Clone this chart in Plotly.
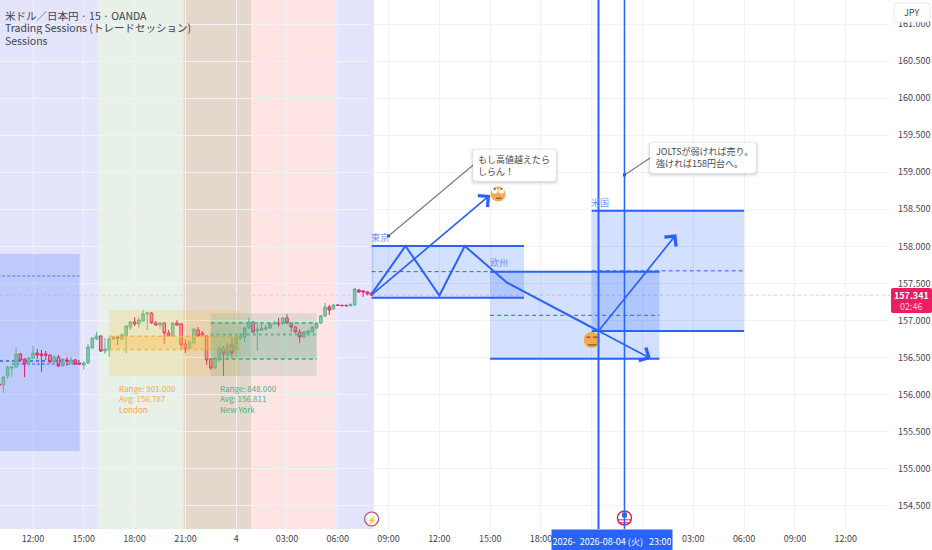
import pandas as pd
import plotly.graph_objects as go

W, H = 932, 550
PLOT_W, PLOT_H = 890, 529
TEXT_FONT = "Liberation Sans Narrow, Noto Sans CJK JP, sans-serif"
BLUE = "#2962ff"
LABEL_BLUE = "#6b93ff"
LAST_PRICE = 157.341

# 15 minute USD/JPY bars
bar_times = pd.date_range("2026-08-03 10:00", periods=89, freq="15min")
bar_opens = [
    156.143, 156.129, 156.251, 156.359, 156.372, 156.548, 156.480, 156.426, 156.494, 156.561,
    156.548, 156.548, 156.534, 156.440, 156.507, 156.386, 156.467, 156.426, 156.467, 156.426,
    156.399, 156.426, 156.629, 156.750, 156.791, 156.588, 156.602, 156.750, 156.777, 156.750,
    156.791, 156.912, 156.980, 156.953, 156.993, 157.088, 157.101, 156.966, 156.939, 156.966,
    156.831, 156.791, 156.966, 156.953, 156.683, 156.615, 156.696, 156.872, 156.831, 156.791,
    156.480, 156.359, 156.467, 156.629, 156.534, 156.669, 156.602, 156.764, 156.777, 156.899,
    156.980, 156.858, 156.872, 156.885, 156.899, 156.953, 156.966, 156.966, 157.034, 156.966,
    156.912, 156.845, 156.777, 156.831, 156.845, 156.899, 156.966, 157.061, 157.182, 157.155,
    157.209, 157.205, 157.205, 157.198, 157.209, 157.411, 157.398, 157.385, 157.371,
]
bar_highs = [
    156.156, 156.251, 156.386, 156.386, 156.642, 156.561, 156.494, 156.507, 156.656, 156.615,
    156.602, 156.588, 156.540, 156.534, 156.534, 156.490, 156.507, 156.507, 156.480, 156.430,
    156.453, 156.683, 156.777, 156.845, 156.800, 156.764, 156.777, 156.790, 156.791, 156.831,
    156.939, 156.993, 157.047, 157.034, 157.142, 157.115, 157.115, 156.993, 156.980, 156.975,
    156.872, 156.980, 157.007, 156.966, 156.750, 156.737, 156.899, 156.912, 156.858, 156.800,
    156.494, 156.507, 156.656, 156.656, 156.696, 156.764, 156.777, 156.831, 156.912, 157.034,
    156.990, 156.980, 156.966, 156.939, 156.966, 156.993, 157.034, 157.047, 157.088, 156.980,
    156.926, 156.885, 156.858, 156.872, 156.925, 156.975, 157.074, 157.236, 157.209, 157.223,
    157.218, 157.212, 157.210, 157.230, 157.438, 157.425, 157.411, 157.395, 157.385,
]
bar_lows = [
    156.116, 156.021, 156.210, 156.237, 156.359, 156.453, 156.237, 156.413, 156.480, 156.480,
    156.305, 156.467, 156.435, 156.430, 156.372, 156.380, 156.386, 156.413, 156.399, 156.405,
    156.332, 156.413, 156.615, 156.737, 156.575, 156.548, 156.507, 156.737, 156.669, 156.737,
    156.561, 156.872, 156.926, 156.899, 156.980, 156.872, 156.953, 156.926, 156.885, 156.683,
    156.777, 156.777, 156.926, 156.602, 156.561, 156.602, 156.683, 156.777, 156.777, 156.399,
    156.332, 156.345, 156.440, 156.251, 156.467, 156.494, 156.507, 156.737, 156.710, 156.885,
    156.831, 156.588, 156.858, 156.858, 156.885, 156.950, 156.912, 156.939, 156.953, 156.845,
    156.831, 156.696, 156.764, 156.818, 156.835, 156.885, 156.953, 157.047, 157.074, 157.142,
    157.200, 157.196, 157.196, 157.190, 157.200, 157.371, 157.317, 157.340, 157.330,
]
bar_closes = [
    156.129, 156.237, 156.372, 156.372, 156.548, 156.467, 156.413, 156.494, 156.561, 156.534,
    156.525, 156.534, 156.440, 156.507, 156.386, 156.480, 156.453, 156.467, 156.413, 156.413,
    156.426, 156.642, 156.764, 156.791, 156.588, 156.615, 156.750, 156.777, 156.764, 156.804,
    156.926, 156.980, 156.953, 157.007, 157.088, 157.101, 156.966, 156.939, 156.966, 156.831,
    156.791, 156.966, 156.939, 156.669, 156.615, 156.710, 156.885, 156.791, 156.791, 156.467,
    156.359, 156.494, 156.629, 156.548, 156.669, 156.561, 156.777, 156.791, 156.899, 156.980,
    156.845, 156.885, 156.899, 156.899, 156.953, 156.966, 156.953, 157.034, 156.966, 156.912,
    156.845, 156.777, 156.845, 156.858, 156.912, 156.966, 157.061, 157.182, 157.142, 157.209,
    157.205, 157.200, 157.198, 157.215, 157.425, 157.385, 157.385, 157.358, 157.341,
]

x_range = ["2026-08-03 10:03", "2026-08-05 14:37"]
y_range = [154.186, 161.325]
tick_times = pd.date_range("2026-08-03 12:00", periods=17, freq="3h")
# the two ticks under the crosshair label stay blank, the picture does not show them
tick_labels = ["12:00", "15:00", "18:00", "21:00", "4", "03:00", "06:00", "09:00", "12:00",
               "15:00", "18:00", "", "", "03:00", "06:00", "09:00", "12:00"]
price_ticks = [154.5 + 0.5 * i for i in range(15)]

# session backgrounds
band_edges = ["2026-08-03 09:00", "2026-08-03 15:52:30", "2026-08-03 20:52:30",
              "2026-08-04 00:52:30", "2026-08-04 05:52:30", "2026-08-04 08:07:30"]
band_colors = ["#e4e4fd", "#e7f1e7", "#e4d8cd", "#ffe4e4", "#e4e4fd"]

# path drawn on the chart, then the three arrows
path_times = ["2026-08-04 08:00", "2026-08-04 10:00", "2026-08-04 12:00", "2026-08-04 13:30",
              "2026-08-04 16:00", "2026-08-04 21:24"]
path_prices = [157.358, 158.005, 157.337, 158.005, 157.510, 156.858]
up_arrow_1 = (["2026-08-04 08:00", "2026-08-04 15:00"], [157.345, 158.694])
up_arrow_2 = (["2026-08-04 21:24", "2026-08-05 02:00"], [156.858, 158.163])
down_arrow = (["2026-08-04 21:24", "2026-08-05 00:30"], [156.858, 156.484])

vline_times = ["2026-08-04 21:24", "2026-08-04 22:56"]


def px_x(x):
    return x / PLOT_W


def px_y(y):
    return 1 - y / PLOT_H


def round_rect(x0, y0, x1, y1, r):
    a, b, c, d = px_x(x0), px_x(x1), px_y(y0), px_y(y1)
    rx, ry = r / PLOT_W, r / PLOT_H
    return (f"M{a + rx},{c} L{b - rx},{c} Q{b},{c} {b},{c - ry} L{b},{d + ry} Q{b},{d} {b - rx},{d} "
            f"L{a + rx},{d} Q{a},{d} {a},{d + ry} L{a},{c - ry} Q{a},{c} {a + rx},{c} Z")


def box(x0, x1, y0, y1, fill, layer="between"):
    return dict(type="rect", x0=x0, x1=x1, y0=y0, y1=y1, fillcolor=fill, line_width=0, layer=layer)


def seg(x0, x1, y, color=BLUE, width=2, dash="solid", layer="between"):
    return dict(type="line", x0=x0, x1=x1, y0=y, y1=y, layer=layer,
                line=dict(color=color, width=width, dash=dash))


def callout(x0, y0, x1, y1):
    out = []
    for grow, alpha in [(3, 0.03), (2, 0.04), (1, 0.05)]:
        out.append(dict(type="path", xref="paper", yref="paper", layer="above", line_width=0,
                        path=round_rect(x0 - grow, y0 - grow + 1, x1 + grow, y1 + grow + 1, 4),
                        fillcolor=f"rgba(0,0,0,{alpha})"))
    out.append(dict(type="path", xref="paper", yref="paper", layer="above", line_width=0,
                    path=round_rect(x0, y0, x1, y1, 3), fillcolor="white"))
    return out


def text(x, y, s, color, size=10, **kw):
    return dict(x=x, y=y, text=s, showarrow=False, font=dict(family=TEXT_FONT, color=color, size=size),
                xanchor=kw.pop("xanchor", "left"), yanchor=kw.pop("yanchor", "middle"),
                align=kw.pop("align", "left"), borderpad=0, **kw)


def marks(x, y, symbol, color, size, line_color=None, line_width=0):
    return go.Scatter(x=x, y=y, mode="markers", hoverinfo="skip", showlegend=False,
                      marker=dict(symbol=symbol, color=color, size=size,
                                  line=dict(color=line_color or color, width=line_width)))


def arrow(times, prices):
    return dict(x=times[1], y=prices[1], ax=times[0], ay=prices[0], xref="x", yref="y", axref="x", ayref="y",
                text="", showarrow=True, arrowhead=4, arrowsize=1.7, arrowwidth=1.7, arrowcolor=BLUE)


fig = go.Figure()

fig.add_trace(go.Candlestick(
    x=bar_times, open=bar_opens, high=bar_highs, low=bar_lows, close=bar_closes,
    increasing=dict(line=dict(color="#5cb58a", width=1), fillcolor="rgba(92,181,138,0.65)"),
    decreasing=dict(line=dict(color="#e91e63", width=1), fillcolor="rgba(225,110,140,0.6)"),
    whiskerwidth=0, showlegend=False, hoverinfo="skip",
))

fig.add_trace(go.Scatter(x=path_times, y=path_prices, mode="lines", line=dict(color=BLUE, width=2),
                         hoverinfo="skip", showlegend=False))

# callout connectors
fig.add_trace(go.Scatter(x=["2026-08-04 09:00", "2026-08-04 14:00"], y=[158.14, 159.098], mode="lines",
                         line=dict(color="#787b86", width=1.2), hoverinfo="skip", showlegend=False))
fig.add_trace(go.Scatter(x=["2026-08-04 22:56", "2026-08-05 00:27"], y=[158.964, 159.193], mode="lines",
                         line=dict(color="#787b86", width=1.2), hoverinfo="skip", showlegend=False))
fig.add_trace(marks(["2026-08-04 09:00", "2026-08-04 22:56"], [158.14, 158.964], "square", "#7a3b4f", 3))

# rolling eyes face
fig.add_trace(marks(["2026-08-04 15:28"], [158.707], "circle", "#f4a950", 15))
fig.add_trace(marks(["2026-08-04 15:16", "2026-08-04 15:40"], [158.75, 158.75], "circle", "#fff6e8", 6))
fig.add_trace(marks(["2026-08-04 15:16", "2026-08-04 15:40"], [158.775, 158.775], "circle", "#5a4030", 2))
fig.add_trace(marks(["2026-08-04 15:31"], [158.65], "line-ew", "#5a4030", 4, "#5a4030", 1))

# smirking face
fig.add_trace(marks(["2026-08-04 21:00"], [156.737], "circle", "#f4a950", 16))
fig.add_trace(marks(["2026-08-04 20:48", "2026-08-04 21:12"], [156.775, 156.775], "line-ew", "#5a4030", 3, "#5a4030", 1))
fig.add_trace(marks(["2026-08-04 21:02"], [156.67], "line-ew", "#5a4030", 6, "#5a4030", 1))

# calendar event icons on the time axis
fig.add_trace(marks(["2026-08-04 08:00"], [154.321], "circle", "white", 14, "#b5435b", 1.2))
fig.add_trace(marks(["2026-08-04 22:56"], [154.335], "circle", "white", 14, "#e5234a", 1.5))
fig.add_trace(marks(["2026-08-04 22:56"], [154.375], "square", "#3b6fd8", 5))
fig.add_trace(marks(["2026-08-04 22:56", "2026-08-04 22:56"], [154.31, 154.27], "line-ew", "#e5234a", 9, "#e5234a", 1))

shapes = []
for i, color in enumerate(band_colors):
    shapes.append(dict(type="rect", x0=band_edges[i], x1=band_edges[i + 1], yref="paper", y0=0, y1=1,
                       fillcolor=color, line_width=0, layer="below"))

# last price line
shapes.append(seg(x_range[0], x_range[1], LAST_PRICE, "#f7c6d6", 1, "dot"))

# left blue box
shapes.append(box("2026-08-03 09:00", "2026-08-03 14:45", 155.239, 157.897, "rgba(41,98,255,0.2)"))
shapes.append(seg("2026-08-03 09:00", "2026-08-03 14:45", 157.60, BLUE, 0.8, "3px,2px"))
shapes.append(seg("2026-08-03 10:03", "2026-08-03 14:45", 156.453, BLUE, 1.5, "dot"))
shapes.append(seg("2026-08-03 10:45", "2026-08-03 14:45", 156.413, BLUE, 1.2, "3px,2px"))

# London session
lon_a, lon_b = "2026-08-03 16:30", "2026-08-04 00:15"
shapes.append(box(lon_a, lon_b, 156.251, 157.142, "rgba(245,190,60,0.22)", "above"))
shapes.append(box(lon_a, lon_b, 156.61, 156.787, "rgba(255,190,60,0.35)", "above"))
shapes.append(seg(lon_a, lon_b, 156.787, "#f5b45a", 1.5, "4px,3px", "above"))
shapes.append(seg(lon_a, lon_b, 156.61, "#f5b45a", 1.5, "4px,3px", "above"))

# New York session
ny_a, ny_b = "2026-08-03 22:30", "2026-08-04 04:45"
shapes.append(box(ny_a, ny_b, 156.251, 157.099, "rgba(120,170,140,0.22)", "above"))
shapes.append(box(ny_a, ny_b, 156.48, 156.966, "rgba(80,170,130,0.22)", "above"))
shapes.append(seg(ny_a, ny_b, 156.966, "#5fb58d", 2, "4px,3px", "above"))
shapes.append(seg(ny_a, ny_b, 156.811, "#5fb58d", 2, "dot", "above"))
shapes.append(seg(ny_a, ny_b, 156.48, "#5fb58d", 2, "4px,3px", "above"))

# Tokyo drawing box
t_a, t_b = "2026-08-04 08:00", "2026-08-04 17:00"
shapes.append(box(t_a, t_b, 157.308, 158.005, "rgba(41,98,255,0.2)"))
shapes.append(seg(t_a, t_b, 158.005))
shapes.append(seg(t_a, t_b, 157.308))
shapes.append(seg(t_a, t_b, 157.659, BLUE, 1, "4px,3px"))

# Europe drawing box
e_a, e_b = "2026-08-04 15:00", "2026-08-05 01:00"
shapes.append(box(e_a, e_b, 156.484, 157.659, "rgba(41,98,255,0.2)"))
shapes.append(seg(e_a, e_b, 157.659))
shapes.append(seg(e_a, e_b, 156.484))
shapes.append(seg(e_a, e_b, 157.07, BLUE, 1, "4px,3px"))

# US drawing box
u_a, u_b = "2026-08-04 21:00", "2026-08-05 06:00"
shapes.append(box(u_a, u_b, 156.858, 158.482, "rgba(41,98,255,0.2)"))
shapes.append(seg(u_a, u_b, 158.482))
shapes.append(seg(u_a, u_b, 156.858))
shapes.append(seg(u_a, u_b, 157.67, BLUE, 1, "4px,3px"))

for t, width in zip(vline_times, [2, 1.5]):
    shapes.append(dict(type="line", x0=t, x1=t, yref="paper", y0=0, y1=1, layer="above",
                       line=dict(color=BLUE, width=width)))

shapes += callout(473, 150, 556, 181)
shapes += callout(650, 143, 756, 173)

# JPY button and last price tag
shapes.append(dict(type="path", xref="paper", yref="paper", layer="above", path=round_rect(894, 3, 930, 22, 3),
                   fillcolor="white", line=dict(color="#e6e8ee", width=1)))
shapes.append(dict(type="path", xref="paper", yref="paper", layer="above", path=round_rect(891, 288, 932, 313, 2),
                   fillcolor="#e91e63", line_width=0))

annotations = [
    arrow(*up_arrow_1),
    arrow(*up_arrow_2),
    arrow(*down_arrow),
    text(px_x(4), px_y(15), "米ドル／日本円 · 15 · OANDA", "#3f4250", 10.5, xref="paper", yref="paper", height=13),
    text(px_x(4), px_y(28), "Trading Sessions (トレードセッション)", "#3f4250", 10.5, xref="paper", yref="paper", height=13),
    text(px_x(4), px_y(41), "Sessions", "#3f4250", 10.5, xref="paper", yref="paper", height=13),
    text("2026-08-03 17:00", 155.934, "Range: 901.000<br>Avg: 156.787<br>London", "#f2ab4e", 8),
    text("2026-08-03 23:00", 155.934, "Range: 848.000<br>Avg: 156.811<br>New York", "#4fae84", 8),
    text("2026-08-04 07:55", 158.125, "東京", LABEL_BLUE, 9),
    text("2026-08-04 14:55", 157.78, "欧州", LABEL_BLUE, 9),
    text("2026-08-04 20:55", 158.595, "米国", LABEL_BLUE, 9),
    text(px_x(477), px_y(165.5), "もし高値越えたら<br>しらん！", "#444754", 9, xref="paper", yref="paper"),
    text(px_x(655), px_y(158), "JOLTSが弱ければ売り。<br>強ければ158円台へ。", "#444754", 9, xref="paper", yref="paper"),
    text(px_x(912), px_y(12.5), "JPY", "#3f4250", 9, xref="paper", yref="paper", xanchor="center", align="center"),
    text(px_x(911), px_y(295.5), "<b>157.341</b>", "white", 9, xref="paper", yref="paper", xanchor="center", align="center", height=11),
    text(px_x(911), px_y(306.5), "02:46", "#fbd0de", 9, xref="paper", yref="paper", xanchor="center", align="center", height=11),
    text("2026-08-04 08:00", 154.321, "⚡", "#b5435b", 8, xanchor="center", align="center"),
    dict(x="2026-08-04 22:12", xref="x", y=0, yref="paper", yanchor="top", xanchor="center", showarrow=False,
         text="2026-&nbsp;&nbsp;2026-08-04 (火)&nbsp;&nbsp;&nbsp;23:00", bgcolor=BLUE, width=118, height=21,
         font=dict(family=TEXT_FONT, color="white", size=9)),
]

fig.update_layout(
    width=W, height=H,
    margin=dict(l=0, r=W - PLOT_W, t=0, b=H - PLOT_H, pad=0, autoexpand=False),
    paper_bgcolor="white", plot_bgcolor="white",
    showlegend=False,
    boxgap=0.12,
    shapes=shapes, annotations=annotations,
    font=dict(family=TEXT_FONT, color="#3f4250", size=10),
    xaxis=dict(range=x_range, rangeslider_visible=False, tickmode="array", tickvals=tick_times, ticktext=tick_labels,
               showgrid=True, gridcolor="#f0f2f7", gridwidth=1, zeroline=False, showline=False, ticks="",
               tickfont=dict(size=9), tickangle=0, ticklabelstandoff=3, automargin=False),
    yaxis=dict(range=y_range, side="right", tickmode="array", tickvals=price_ticks, tickformat=".3f",
               showgrid=True, gridcolor="#f0f2f7", gridwidth=1, zeroline=False, showline=False, ticks="",
               tickfont=dict(size=9), ticklabelstandoff=7, automargin=False),
)

fig.write_html("out.html", config={"displayModeBar": False}, post_script="document.body.style.margin='0';")
